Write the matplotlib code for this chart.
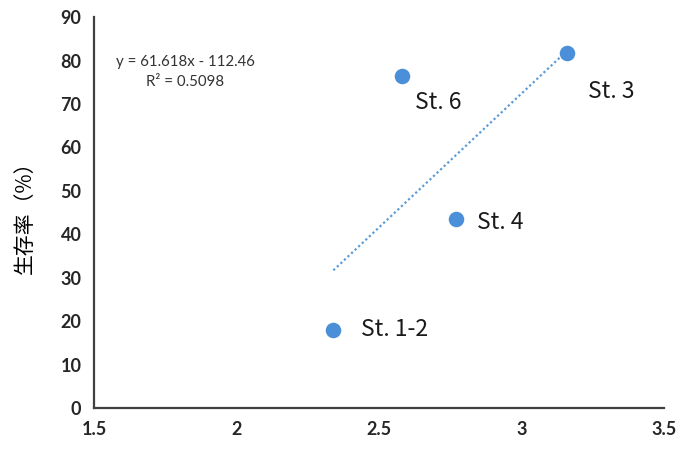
import matplotlib
matplotlib.use("Agg")
import matplotlib.pyplot as plt
import numpy as np

# data
stations = ["St. 1-2", "St. 6", "St. 4", "St. 3"]
x_vals = [2.34, 2.58, 2.77, 3.16]
y_vals = [18.0, 76.5, 43.5, 81.8]

# Excel style linear trendline
slope = 61.618
intercept = -112.46
r2 = 0.5098

# label offsets in pixels (dx, dy)
label_offsets = {"St. 1-2": (28, 0), "St. 6": (13, -27), "St. 4": (21, -3), "St. 3": (21, -39)}

fig = plt.figure(figsize=(6.81, 4.5), dpi=100)
ax = fig.add_axes([0.138, 0.093, 0.837, 0.869])

xs = np.array([min(x_vals), max(x_vals)])
ax.plot(xs, slope * xs + intercept, linestyle=(0, (1, 1.2)), color="#5B9BD5", lw=1.6, zorder=1)
ax.scatter(x_vals, y_vals, s=125, color="#4A8FD8", zorder=2, linewidths=0)

for name, x, y in zip(stations, x_vals, y_vals):
    dx, dy = label_offsets[name]
    ax.annotate(name, (x, y), xytext=(dx, dy), textcoords="offset pixels",
                ha="left", va="center", fontsize=16.5,
                family=["Noto Sans CJK JP", "DejaVu Sans"], color="#1a1a1a")

eq = f"y = {slope}x - {abs(intercept)}\nR² = {r2}"
ax.text(0.16, 0.86, eq, transform=ax.transAxes,
        ha="center", va="center", fontsize=10.8, family="Lato", color="#333333",
        linespacing=1.55)

ax.set_xlim(1.5, 3.5)
ax.set_ylim(0, 90)
ax.set_xticks([1.5, 2, 2.5, 3, 3.5])
ax.set_xticklabels(["1.5", "2", "2.5", "3", "3.5"])
ax.set_yticks(range(0, 91, 10))
ax.tick_params(length=0, labelsize=13, pad=9)
for lab in ax.get_xticklabels() + ax.get_yticklabels():
    lab.set_fontweight("bold")
    lab.set_family("Lato")
    lab.set_color("#262626")

for s in ["top", "right"]:
    ax.spines[s].set_visible(False)
for s in ["left", "bottom"]:
    ax.spines[s].set_color("#404040")
    ax.spines[s].set_linewidth(1.6)

ax.set_ylabel("生存率（%）", family=["Noto Sans CJK JP", "DejaVu Sans"], fontsize=15)
ax.yaxis.set_label_coords(-0.102, 0.5)

fig.savefig("out.png", dpi=100)
